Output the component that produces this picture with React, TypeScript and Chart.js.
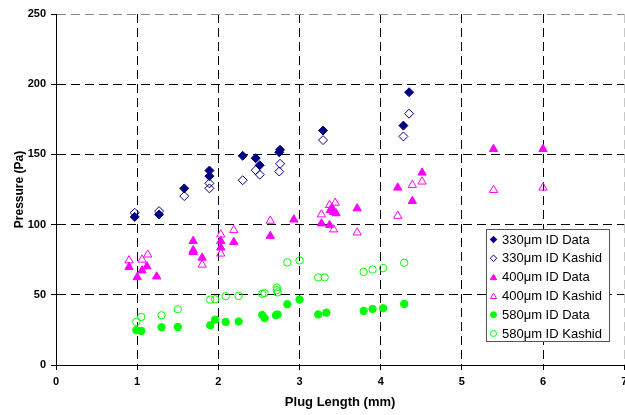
import React, { useEffect, useRef } from 'react';
import { Chart, registerables } from 'chart.js';

Chart.register(...registerables);

const FONT = 'Arial, "Liberation Sans", sans-serif';

const seriesLabels = [
  '330μm ID Data',
  '330μm ID Kashid',
  '400μm ID Data',
  '400μm ID Kashid',
  '580μm ID Data',
  '580μm ID Kashid',
];

const xTicks = [0, 1, 2, 3, 4, 5, 6, 7];
const yTicks = [0, 50, 100, 150, 200, 250];

// 330 µm
const x330Data = [0.97, 1.27, 1.58, 1.89, 1.89, 2.30, 2.46, 2.51, 2.75, 2.76, 3.29, 4.28, 4.35];
const y330Data = [105.5, 107.2, 125.8, 134.5, 138.5, 149, 147.3, 142.3, 151.5, 153.3, 167, 170.5, 194.3];
const x330Kashid = [0.97, 1.27, 1.58, 1.89, 1.89, 2.30, 2.46, 2.51, 2.75, 2.76, 3.29, 4.28, 4.35];
const y330Kashid = [108.4, 109.6, 120.3, 125.8, 129.4, 131.6, 138.7, 135.6, 137.8, 143.3, 160.2, 162.8, 179];

// 400 µm
const x400Data = [0.90, 1.00, 1.06, 1.12, 1.24, 1.69, 1.69, 1.69, 1.80, 2.03, 2.03, 2.19, 2.64, 2.93, 3.27, 3.37, 3.38, 3.40, 3.42, 3.45, 3.71, 4.21, 4.39, 4.51, 5.39, 6.00];
const y400Data = [69.7, 62.5, 67.3, 70.2, 63, 88.3, 81.7, 80.4, 76.4, 88.3, 83.6, 87.6, 91.9, 103.6, 100.8, 99.6, 110.3, 112, 109, 108, 111.5, 126.3, 116.8, 137, 153.8, 153.8];
const x400Kashid = [0.90, 1.06, 1.13, 1.80, 2.03, 2.03, 2.19, 2.64, 3.27, 3.37, 3.44, 3.42, 3.71, 4.21, 4.39, 4.51, 5.39, 6.00];
const y400Kashid = [74.5, 75, 78.6, 71.4, 92.9, 79.3, 96, 102.7, 107.2, 113.9, 115.5, 96.5, 94.3, 106.2, 128.2, 130.6, 124.6, 126.3];

// 580 µm
const x580Data = [0.99, 1.05, 1.30, 1.50, 1.90, 1.96, 2.09, 2.25, 2.54, 2.57, 2.71, 2.73, 2.85, 3.00, 3.23, 3.33, 3.79, 3.90, 4.03, 4.29];
const y580Data = [24.8, 24.3, 26.9, 27.1, 28.3, 32.3, 30.7, 31, 35.6, 33.4, 35.5, 36, 43.3, 46.6, 36, 37.3, 38.5, 39.9, 40.4, 43.5];
const x580Kashid = [0.99, 1.05, 1.30, 1.50, 1.90, 1.96, 2.09, 2.25, 2.54, 2.57, 2.72, 2.72, 2.73, 2.85, 3.00, 3.23, 3.31, 3.79, 3.90, 4.03, 4.29];
const y580Kashid = [30.7, 34.2, 35.4, 39.7, 46.6, 46.8, 49, 49.2, 50.7, 51.2, 55.2, 53.3, 51.7, 73.1, 74.5, 62.4, 62.4, 66.3, 68, 69, 72.8];

const NAVY = '#000080';
const MAGENTA = '#FF00FF';
const GREEN = '#00FF00';

const seriesColors = [NAVY, NAVY, MAGENTA, MAGENTA, GREEN, GREEN];
const seriesFilled = [true, false, true, false, true, false];
const seriesShapes = ['rectRot', 'rectRot', 'triangle', 'triangle', 'circle', 'circle'];
const seriesRadius = [4.5, 4.5, 4.8, 4.8, 3.7, 3.7];

const seriesX = [x330Data, x330Kashid, x400Data, x400Kashid, x580Data, x580Kashid];
const seriesY = [y330Data, y330Kashid, y400Data, y400Kashid, y580Data, y580Kashid];

function drawMarker(ctx: CanvasRenderingContext2D, shape: string, x: number, y: number, r: number, color: string, filled: boolean) {
  ctx.beginPath();
  if (shape === 'rectRot') {
    ctx.moveTo(x - r, y);
    ctx.lineTo(x, y - r);
    ctx.lineTo(x + r, y);
    ctx.lineTo(x, y + r);
    ctx.closePath();
  } else if (shape === 'triangle') {
    const h = r * 1.5;
    const w = r * Math.sqrt(3) / 2;
    ctx.moveTo(x, y - r);
    ctx.lineTo(x + w, y + h - r);
    ctx.lineTo(x - w, y + h - r);
    ctx.closePath();
  } else {
    ctx.arc(x, y, r, 0, Math.PI * 2);
  }
  ctx.lineWidth = 1;
  ctx.strokeStyle = color;
  if (filled) {
    ctx.fillStyle = color;
    ctx.fill();
  }
  ctx.stroke();
}

const boxLegend = {
  id: 'boxLegend',
  afterDraw(chart: any) {
    const ctx: CanvasRenderingContext2D = chart.ctx;
    const bx = 486.5, by = 229.5, bw = 123, bh = 112;
    ctx.save();
    ctx.fillStyle = '#ffffff';
    ctx.fillRect(bx, by, bw, bh);
    ctx.strokeStyle = '#555555';
    ctx.lineWidth = 1;
    ctx.strokeRect(bx, by, bw, bh);
    ctx.font = '13px ' + FONT;
    ctx.textBaseline = 'middle';
    ctx.textAlign = 'left';
    chart.data.datasets.forEach((ds: any, i: number) => {
      const cy = 239.5 + i * 18.8;
      const shape = seriesShapes[i];
      const r = shape === 'triangle' ? 3.6 : shape === 'circle' ? 3 : 3.3;
      drawMarker(ctx, shape, 493.5, cy + (shape === 'triangle' ? 0.8 : 0), r, seriesColors[i], seriesFilled[i]);
      ctx.fillStyle = '#000000';
      ctx.fillText(ds.label, 502, cy + 0.5);
    });
    ctx.restore();
  },
};

export default function App() {
  const canvasRef = useRef<HTMLCanvasElement | null>(null);

  useEffect(() => {
    const canvas = canvasRef.current;
    if (!canvas) return;

    const datasets = seriesLabels.map((label, i) => ({
      label,
      data: seriesX[i].map((x, j) => ({ x, y: seriesY[i][j] })),
      pointStyle: seriesShapes[i] as any,
      pointRadius: seriesRadius[i],
      pointHoverRadius: seriesRadius[i],
      pointBorderWidth: 1,
      borderColor: seriesColors[i],
      backgroundColor: seriesFilled[i] ? seriesColors[i] : 'rgba(0,0,0,0)',
      pointBackgroundColor: seriesFilled[i] ? seriesColors[i] : 'rgba(0,0,0,0)',
      pointBorderColor: seriesColors[i],
      showLine: false,
      order: seriesLabels.length - i,
    }));

    const chart = new Chart(canvas, {
      type: 'scatter',
      data: { datasets },
      options: {
        animation: false,
        responsive: false,
        devicePixelRatio: 1,
        events: [],
        layout: { padding: { top: 14, left: 0, right: 0, bottom: 0 } },
        plugins: {
          legend: { display: false },
          tooltip: { enabled: false },
          title: { display: false },
        },
        scales: {
          x: {
            type: 'linear',
            min: 0,
            max: 7,
            afterBuildTicks: (scale: any) => {
              scale.ticks = xTicks.map((v) => ({ value: v }));
            },
            afterFit: (scale: any) => {
              scale.height = 50;
              scale.paddingLeft = 0;
              scale.paddingRight = 0;
            },
            ticks: {
              color: '#000',
              font: { family: FONT, size: 11, weight: 'bold' },
              padding: 5,
              maxRotation: 0,
              autoSkip: false,
            },
            grid: {
              color: (ctx: any) => (ctx.tick && ctx.tick.value === 7 ? '#c8c8c8' : '#000000'),
              tickColor: '#000',
              tickLength: 5,
              lineWidth: 1,
            },
            border: { display: true, color: '#000', width: 1, dash: [9, 5] },
            title: {
              display: true,
              text: 'Plug Length (mm)',
              color: '#000',
              font: { family: FONT, size: 13, weight: 'bold' },
              padding: { top: 0, bottom: 5 },
            },
          },
          y: {
            type: 'linear',
            min: 0,
            max: 250,
            afterBuildTicks: (scale: any) => {
              scale.ticks = yTicks.map((v) => ({ value: v }));
            },
            afterFit: (scale: any) => {
              scale.width = 56;
              scale.paddingTop = 0;
              scale.paddingBottom = 0;
            },
            ticks: {
              color: '#000',
              font: { family: FONT, size: 11, weight: 'bold' },
              padding: 5,
            },
            grid: {
              color: (ctx: any) => (ctx.tick && ctx.tick.value === 250 ? '#8a8a8a' : '#000000'),
              tickColor: '#000',
              tickLength: 5,
              lineWidth: 1,
            },
            border: { display: true, color: '#000', width: 1, dash: [9, 5] },
            title: {
              display: true,
              text: 'Pressure (Pa)',
              color: '#000',
              font: { family: FONT, size: 12, weight: 'bold' },
              padding: { top: 12, bottom: 0 },
            },
          },
        },
      },
      plugins: [boxLegend],
    });

    return () => {
      chart.destroy();
    };
  }, []);

  return (
    <div style={{ position: 'fixed', left: 0, top: 0, width: 625, height: 415, overflow: 'hidden', background: '#fff' }}>
      <canvas ref={canvasRef} width={630} height={415} style={{ display: 'block', width: 630, height: 415 }} />
    </div>
  );
}
